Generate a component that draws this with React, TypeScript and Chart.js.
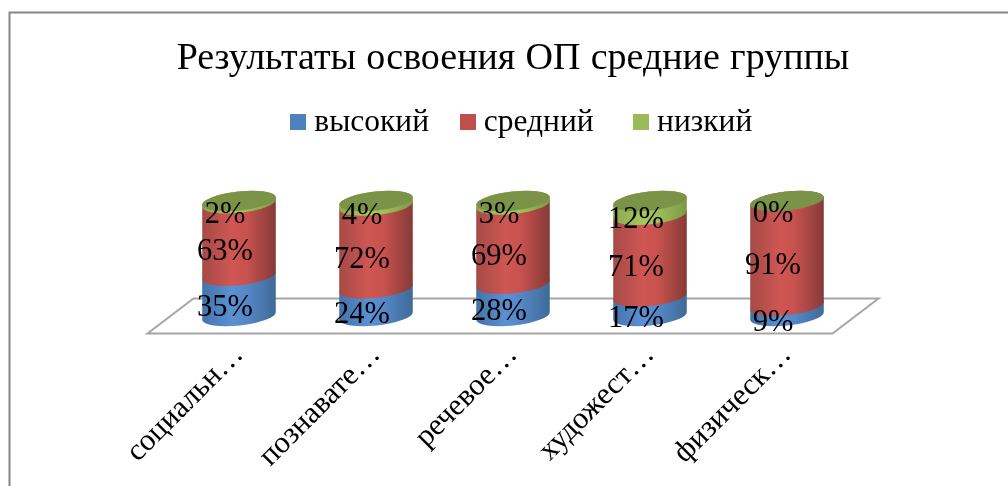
import React, { useEffect, useRef } from "react";
import { Chart, registerables } from "chart.js";

Chart.register(...registerables);

const categories = ["социальн…", "познавате…", "речевое…", "художест…", "физическ…"];
const seriesNames = ["высокий", "средний", "низкий"];
const high = [35, 24, 28, 17, 9];
const medium = [63, 72, 69, 71, 91];
const low = [2, 4, 3, 12, 0];
const titleText = "Результаты освоения ОП средние группы";

const solid = ["#4f81bd", "#c0504d", "#9bbb59"];
const shades = [
  ["#4373ab", "#5b90d3", "#5688c8", "#3f6a96"],
  ["#a54a46", "#cf5653", "#c8524f", "#853a37"],
  ["#8aa84f", "#a6c85e", "#9fc05a", "#7d9745"],
];
const FONT = "'Liberation Serif'";

function swatch(color: string) {
  const c = document.createElement("canvas");
  c.width = 16;
  c.height = 16;
  const g = c.getContext("2d")!;
  g.fillStyle = color;
  g.fillRect(0, 0, 16, 16);
  return c;
}

const ROT = -0.108;
const RY = 9.5;

const cylinderPlugin = {
  id: "cylinders",
  beforeDraw(chart: any) {
    const { ctx, width, height, chartArea, scales } = chart;
    ctx.save();
    ctx.fillStyle = "#fff";
    ctx.fillRect(0, 0, width, height);
    ctx.strokeStyle = "#868686";
    ctx.lineWidth = 2;
    ctx.beginPath();
    ctx.moveTo(9.5, height + 2);
    ctx.lineTo(9.5, 12.5);
    ctx.lineTo(width + 2, 12.5);
    ctx.stroke();
    // floor
    const y0 = scales.y.getPixelForValue(0);
    ctx.strokeStyle = "#a6a6a6";
    ctx.beginPath();
    ctx.moveTo(chartArea.left - 23, y0 + 17.5);
    ctx.lineTo(chartArea.left + 23, y0 - 17.5);
    ctx.lineTo(chartArea.right + 23, y0 - 17.5);
    ctx.lineTo(chartArea.right - 23, y0 + 17.5);
    ctx.closePath();
    ctx.stroke();
    ctx.restore();
    (ctx as any).wordSpacing = "0.75px";
  },
  beforeDatasetDraw() {
    return false;
  },
  afterDatasetsDraw(chart: any) {
    const { ctx } = chart;
    (ctx as any).wordSpacing = "0px";
    const n = chart.data.labels.length;
    ctx.save();
    for (let i = 0; i < n; i++) {
      let topEl: any = null;
      chart.data.datasets.forEach((ds: any, d: number) => {
        const el = chart.getDatasetMeta(d).data[i];
        const { x, y, base, width } = el.getProps(["x", "y", "base", "width"], true);
        const rx = width / 2;
        topEl = { x, y, rx };
        if (ds.data[i] <= 0) return;
        const g = ctx.createLinearGradient(x - rx, 0, x + rx, 0);
        const s = shades[d];
        g.addColorStop(0, s[0]);
        g.addColorStop(0.4, s[1]);
        g.addColorStop(0.6, s[2]);
        g.addColorStop(1, s[3]);
        ctx.fillStyle = g;
        ctx.beginPath();
        ctx.ellipse(x, base, rx, RY, ROT, 0, Math.PI, false);
        ctx.ellipse(x, y, rx, RY, ROT, Math.PI, Math.PI * 2, false);
        ctx.closePath();
        ctx.fill();
      });
      // top cap
      ctx.fillStyle = "#7b9346";
      ctx.beginPath();
      ctx.ellipse(topEl.x, topEl.y, topEl.rx, RY, ROT, 0, Math.PI * 2);
      ctx.fill();
    }
    // value labels
    ctx.fillStyle = "#000";
    ctx.font = `30.5px ${FONT}`;
    ctx.textAlign = "center";
    ctx.textBaseline = "middle";
    chart.data.datasets.forEach((ds: any, d: number) => {
      const meta = chart.getDatasetMeta(d);
      ds.data.forEach((v: number, i: number) => {
        const el = meta.data[i];
        const { x, y, base } = el.getProps(["x", "y", "base"], true);
        ctx.fillText(`${v}%`, x - 14, (y + base) / 2 + 12.5);
      });
    });
    ctx.restore();
  },
};

export default function App() {
  const ref = useRef<HTMLCanvasElement>(null);
  useEffect(() => {
    document.body.style.margin = "0";
    const chart = new Chart(ref.current!, {
      type: "bar",
      plugins: [cylinderPlugin],
      data: {
        labels: categories,
        datasets: [high, medium, low].map((data, i) => ({
          label: seriesNames[i],
          data,
          backgroundColor: solid[i],
          stack: "s",
        })),
      },
      options: {
        responsive: false,
        animation: false,
        layout: { padding: { left: 42, right: 0, top: 0, bottom: 0 } },
        datasets: { bar: { barPercentage: 0.54, categoryPercentage: 1 } },
        plugins: {
          tooltip: { enabled: false },
          title: {
            display: true,
            fullSize: false,
            text: titleText,
            color: "#000",
            font: { family: FONT, size: 38, weight: "normal", lineHeight: 1.2 },
            padding: { top: 36, bottom: -14 },
          },
          legend: {
            display: true,
            position: "top",
            labels: {
              color: "#000",
              font: { family: FONT, size: 31.5 },
              usePointStyle: true,
              pointStyleWidth: 0.01,
              padding: 39,
              boxHeight: 16,
              generateLabels: (c: any) =>
                Chart.defaults.plugins.legend.labels.generateLabels(c).map((l: any, i: number) => ({
                  ...l,
                  text: i === 1 ? l.text + " " : l.text,
                  pointStyle: swatch(solid[i]),
                  fontColor: "#000",
                })),
            },
          },
        },
        scales: {
          x: {
            stacked: true,
            grid: { display: false },
            border: { display: false },
            afterFit: (s: any) => {
              s.height = 170;
            },
            ticks: {
              color: "#000",
              font: { family: FONT, size: 30.5 },
              minRotation: 45,
              maxRotation: 45,
              autoSkip: false,
              padding: 13,
            },
          },
          y: {
            stacked: true,
            min: 0,
            max: 146,
            grid: { display: false },
            border: { display: false },
            ticks: { display: false },
            afterFit: (s: any) => {
              s.width = 128.5;
            },
          },
          y2: {
            position: "right",
            grid: { display: false },
            border: { display: false },
            ticks: { display: false },
            afterFit: (s: any) => {
              s.width = 152.5;
            },
          },
        },
      } as any,
    });
    return () => chart.destroy();
  }, []);
  return <canvas ref={ref} width={1008} height={486} style={{ display: "block" }} />;
}
